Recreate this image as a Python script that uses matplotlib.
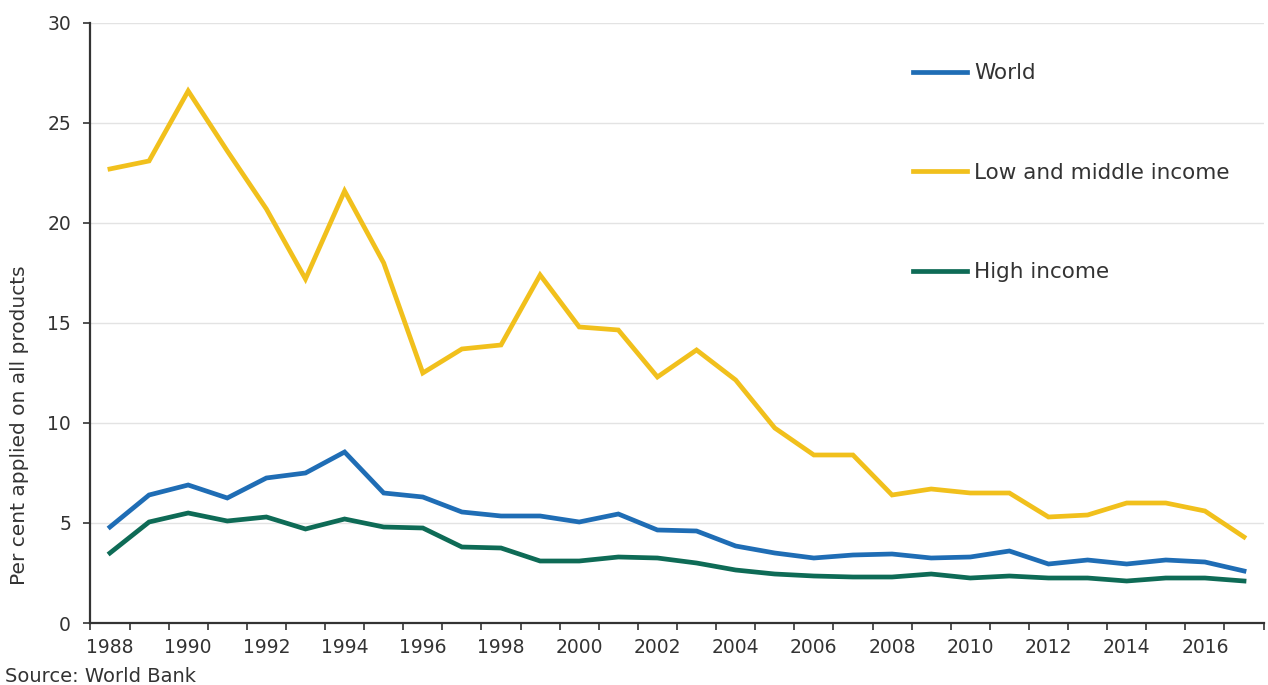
"""
Applied tariff rates, 1988-2017 (World Bank).
"""

import matplotlib
matplotlib.use('Agg')
import matplotlib.pyplot as plt
from matplotlib.ticker import FixedLocator

matplotlib.rcParams.update({
    "font.family": ["DejaVu Sans"],
    "axes.spines.top": False,
    "axes.spines.right": False,
})

# ── Data ──────────────────────────────────────────────────────────────────────

YEARS = list(range(1988, 2018))

WORLD = [4.8, 6.4, 6.9, 6.25, 7.25, 7.5, 8.55, 6.5, 6.3, 5.55,
         5.35, 5.35, 5.05, 5.45, 4.65, 4.6, 3.85, 3.5, 3.25, 3.4,
         3.45, 3.25, 3.3, 3.6, 2.95, 3.15, 2.95, 3.15, 3.05, 2.6]

LOW_MIDDLE = [22.7, 23.1, 26.6, 23.6, 20.7, 17.2, 21.6, 18.0, 12.5, 13.7,
              13.9, 17.4, 14.8, 14.65, 12.3, 13.65, 12.15, 9.75, 8.4, 8.4,
              6.4, 6.7, 6.5, 6.5, 5.3, 5.4, 6.0, 6.0, 5.6, 4.3]

HIGH = [3.5, 5.05, 5.5, 5.1, 5.3, 4.7, 5.2, 4.8, 4.75, 3.8,
        3.75, 3.1, 3.1, 3.3, 3.25, 3.0, 2.65, 2.45, 2.35, 2.3,
        2.3, 2.45, 2.25, 2.35, 2.25, 2.25, 2.1, 2.25, 2.25, 2.1]

SERIES = [
    ("World", WORLD, "#1f6db5"),
    ("Low and middle income", LOW_MIDDLE, "#f1c01c"),
    ("High income", HIGH, "#0e6b56"),
]

Y_TICKS = [0, 5, 10, 15, 20, 25, 30]
TEXT_COLOUR = "#333333"

# ── Figure ────────────────────────────────────────────────────────────────────

fig = plt.figure(figsize=(12.68, 6.85), dpi=100)
ax = fig.add_axes([0.0713, 0.0905, 0.9252, 0.876])

x = list(range(len(YEARS)))
for label, values, colour in SERIES:
    ax.plot(x, values, color=colour, linewidth=3.4, label=label,
            solid_joinstyle='miter')

ax.set_xlim(-0.5, len(YEARS) - 0.5)
ax.set_ylim(0, 30)

# Category axis: tick marks on the boundaries, labels every second year
ax.xaxis.set_major_locator(FixedLocator([i - 0.5 for i in range(len(YEARS) + 1)]))
ax.xaxis.set_major_formatter(plt.NullFormatter())
ax.set_xticks(x[::2], [str(y) for y in YEARS[::2]], minor=True)
ax.tick_params(axis='x', which='major', direction='out', length=5,
               width=1.2, color='#333333')
ax.tick_params(axis='x', which='minor', length=0, pad=11,
               labelsize=13.5, labelcolor=TEXT_COLOUR)

ax.set_yticks(Y_TICKS)
ax.tick_params(axis='y', direction='out', length=5, width=1.2,
               color='#333333', pad=9, labelsize=13.5, labelcolor=TEXT_COLOUR)

ax.grid(axis='y', color='#e3e3e3', linewidth=1.0)
ax.set_axisbelow(True)
for side in ("left", "bottom"):
    ax.spines[side].set_color('#333333')
    ax.spines[side].set_linewidth(1.6)

ax.set_ylabel("Per cent applied on all products", fontsize=14.5,
              color=TEXT_COLOUR)
ax.yaxis.set_label_coords(-0.052, 0.33)

ax.legend(loc='upper left', bbox_to_anchor=(0.701, 0.933), frameon=False,
          fontsize=15.5, handlelength=2.5, handletextpad=0.35,
          labelspacing=3.7, borderpad=0, borderaxespad=0,
          labelcolor=TEXT_COLOUR)

fig.text(5 / 1268, 8 / 685, "Source: World Bank", fontsize=14,
         color=TEXT_COLOUR, va='center', ha='left')

fig.savefig("out.png", dpi=100, facecolor='white')
